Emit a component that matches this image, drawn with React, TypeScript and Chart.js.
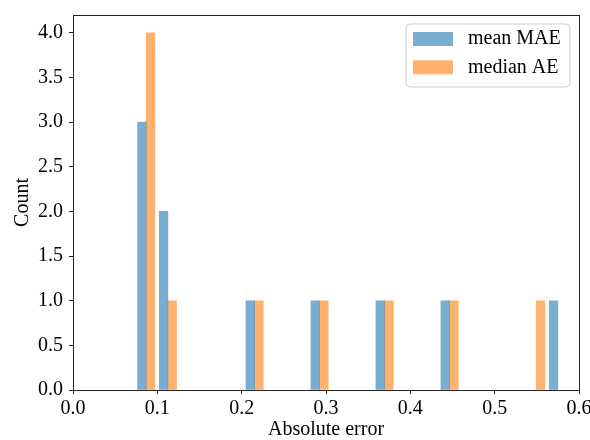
import React, { useEffect, useRef } from 'react';
import { Chart, registerables } from 'chart.js';

Chart.register(...registerables);

// ---- data ----
const seriesLabels = ['mean MAE', 'median AE'];
const binWidth = 0.0257;
const meanBinStarts = [0.074, 0.0997, 0.2025, 0.2795, 0.3566, 0.4337, 0.5621];
const meanCounts = [3, 2, 1, 1, 1, 1, 1];
const medianBinStarts = [0.074, 0.0997, 0.2025, 0.2795, 0.3566, 0.4337, 0.5364];
const medianCounts = [4, 1, 1, 1, 1, 1, 1];
const xTicks = [0, 0.1, 0.2, 0.3, 0.4, 0.5, 0.6];
const yTicks = [0, 0.5, 1, 1.5, 2, 2.5, 3, 3.5, 4];
const xTitle = 'Absolute error';
const yTitle = 'Count';

const FONT = 'Liberation Serif';
const FONT_SIZE = 20;
const AXIS = '#222222';
const BLUE = 'rgba(31,119,180,0.6)';
const ORANGE = 'rgba(255,127,14,0.6)';

const legendPlugin = {
  id: 'boxLegend',
  afterDraw(chart: any) {
    const { ctx, chartArea } = chart;
    const w = 164;
    const h = 63;
    const x = chartArea.right - 9 - w;
    const y = chartArea.top + 9;
    ctx.save();
    ctx.beginPath();
    const r = 4;
    ctx.moveTo(x + r, y);
    ctx.lineTo(x + w - r, y);
    ctx.arcTo(x + w, y, x + w, y + r, r);
    ctx.lineTo(x + w, y + h - r);
    ctx.arcTo(x + w, y + h, x + w - r, y + h, r);
    ctx.lineTo(x + r, y + h);
    ctx.arcTo(x, y + h, x, y + h - r, r);
    ctx.lineTo(x, y + r);
    ctx.arcTo(x, y, x + r, y, r);
    ctx.closePath();
    ctx.fillStyle = 'rgba(255,255,255,0.8)';
    ctx.fill();
    ctx.strokeStyle = '#cccccc';
    ctx.lineWidth = 1;
    ctx.stroke();
    chart.data.datasets.forEach((ds: any, i: number) => {
      const rowY = y + 15 + i * 28.3;
      ctx.fillStyle = ds.backgroundColor;
      ctx.fillRect(x + 7, rowY - 7, 40, 14);
      ctx.fillStyle = '#000';
      ctx.font = `${FONT_SIZE}px "${FONT}"`;
      ctx.textBaseline = 'middle';
      ctx.textAlign = 'left';
      ctx.fillText(ds.label, x + 62, rowY);
    });
    ctx.restore();
  },
};

export default function App() {
  const ref = useRef<HTMLCanvasElement | null>(null);

  useEffect(() => {
    if (!ref.current) return;
    const font = { family: FONT, size: FONT_SIZE };
    const meanData = meanBinStarts.map((s, i) => ({ x: s + binWidth * 0.3, y: meanCounts[i] }));
    const medianData = medianBinStarts.map((s, i) => ({ x: s + binWidth * 0.7, y: medianCounts[i] }));

    const chart = new Chart(ref.current, {
      type: 'bar',
      data: {
        datasets: [
          {
            label: seriesLabels[0],
            data: meanData,
            backgroundColor: BLUE,
            borderWidth: 0,
            grouped: false,
            categoryPercentage: 1,
            barPercentage: 1,
          } as any,
          {
            label: seriesLabels[1],
            data: medianData,
            backgroundColor: ORANGE,
            borderWidth: 0,
            grouped: false,
            categoryPercentage: 1,
            barPercentage: 1,
          } as any,
        ],
      },
      options: {
        responsive: false,
        animation: false,
        devicePixelRatio: 1,
        layout: { padding: { top: 15, right: 11, left: 0, bottom: 0 } },
        plugins: { legend: { display: false }, tooltip: { enabled: false } },
        scales: {
          x: {
            type: 'linear',
            min: 0,
            max: 0.6,
            offset: false,
            afterBuildTicks: (s: any) => {
              s.ticks = xTicks.map((v) => ({ value: v }));
            },
            ticks: {
              callback: (v: any) => Number(v).toFixed(1),
              font,
              color: '#000',
              padding: 3,
              maxRotation: 0,
              autoSkip: false,
            },
            grid: { display: true, drawOnChartArea: false, tickLength: 4, tickColor: AXIS, offset: false },
            border: { display: true, color: AXIS, width: 1 },
            title: { display: true, text: xTitle, font, color: '#000', padding: { top: 0, bottom: -2 } },
            afterFit: (s: any) => {
              s.height = 50;
              s.paddingLeft = 0;
              s.paddingRight = 0;
            },
          },
          y: {
            type: 'linear',
            min: 0,
            max: 4.2,
            afterBuildTicks: (s: any) => {
              s.ticks = yTicks.map((v) => ({ value: v }));
            },
            ticks: {
              callback: (v: any) => Number(v).toFixed(1),
              font,
              color: '#000',
              padding: 6,
              autoSkip: false,
            },
            grid: { display: true, drawOnChartArea: false, tickLength: 4, tickColor: AXIS },
            border: { display: true, color: AXIS, width: 1 },
            title: { display: true, text: yTitle, font, color: '#000', padding: { top: 11, bottom: 0 } },
            afterFit: (s: any) => {
              s.width = 73;
              s.paddingTop = 0;
              s.paddingBottom = 0;
            },
          },
          xTop: {
            type: 'linear',
            position: 'top',
            min: 0,
            max: 0.6,
            ticks: { display: false },
            grid: { display: false },
            border: { display: true, color: AXIS, width: 1 },
            afterFit: (s: any) => {
              s.height = 0;
            },
          },
          yRight: {
            type: 'linear',
            position: 'right',
            min: 0,
            max: 4.2,
            ticks: { display: false },
            grid: { display: false },
            border: { display: true, color: AXIS, width: 1 },
            afterFit: (s: any) => {
              s.width = 0;
            },
          },
        } as any,
      },
      plugins: [legendPlugin],
    });
    return () => chart.destroy();
  }, []);

  return (
    <div style={{ position: 'fixed', left: 0, top: 0, width: 590, height: 440, background: '#fff' }}>
      <canvas ref={ref} width={590} height={440} />
    </div>
  );
}
